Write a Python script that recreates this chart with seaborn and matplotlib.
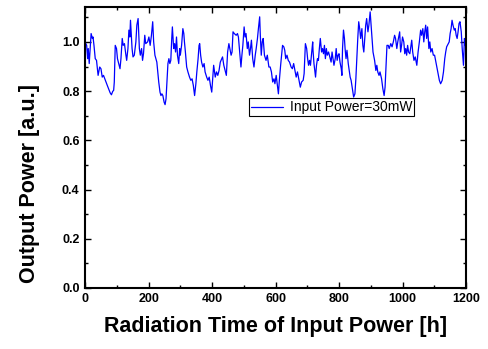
import numpy as np
import pandas as pd
import matplotlib
matplotlib.use("Agg")
import matplotlib.pyplot as plt
import seaborn as sns
from matplotlib.ticker import MultipleLocator

# values
hours = [0, 5, 8, 10, 13, 19, 23, 25, 28, 32, 36, 41, 46, 50, 54, 58, 62, 66, 70, 74,
         79, 83, 87, 90, 92, 95, 99, 102, 106, 110, 113, 117, 120, 124, 128, 131, 135,
         138, 141, 143, 146, 148, 151, 155, 160, 163, 167, 171, 174, 178, 181, 184, 188,
         191, 197, 201, 205, 209, 213, 216, 220, 226, 232, 236, 239,
         242, 245, 249, 252, 255, 258, 261, 264, 267, 270, 273, 275, 279, 282, 285, 288,
         291, 295, 298, 300, 304, 308, 311, 313, 316, 320, 324, 329, 333, 337, 341, 345,
         349, 352, 356, 359, 361, 364, 367, 371, 375, 378, 383, 387, 391, 395, 399, 402,
         405, 410, 414, 418, 422, 426, 433, 437, 441, 445, 449, 453, 456, 460, 463, 466,
         470, 476,
         480, 483, 486, 491, 494, 497, 501, 504, 507, 511, 514, 518, 521, 524, 528, 532,
         536, 539, 543, 546, 550, 552, 555, 558, 561, 565, 570, 574, 579, 583, 587, 591,
         595, 598, 602, 606, 609, 612, 616, 622, 626, 629, 632, 636, 640, 644, 649, 653,
         657, 661, 665, 669, 674, 678, 682, 687, 690, 694, 698, 701, 704, 707, 710, 713,
         717,
         718, 721, 726, 729, 732, 735, 738, 741, 745, 748, 751, 754, 757, 760, 763, 767,
         771, 775, 778, 781, 784, 788, 791, 794, 797, 800, 803, 807, 809, 811, 814, 817,
         819, 822, 825, 829, 832, 835, 838, 842, 846, 850, 853, 856, 859, 862, 865, 868,
         872, 875, 878, 881, 884, 887, 891, 894, 898, 901, 904, 907, 912, 916, 919, 922,
         926, 929, 934, 938, 942, 945, 948, 951,
         955, 958, 963, 967, 971, 975, 978, 982, 985, 988, 991, 994, 997, 1000, 1004,
         1007, 1010, 1013, 1016, 1019, 1023, 1026, 1029, 1032, 1036, 1040, 1045, 1049,
         1053, 1057, 1060, 1064, 1067, 1070, 1073, 1076, 1079, 1083, 1086, 1089, 1093,
         1097, 1101, 1106, 1110, 1113, 1116, 1120, 1125, 1129, 1133, 1136, 1139, 1144,
         1147, 1150, 1153, 1156, 1159, 1163, 1166, 1169, 1172, 1175, 1178, 1181, 1185,
         1188, 1192, 1195, 1198]

power = [1.000, 0.986, 0.932, 0.973, 0.912, 1.034, 1.014, 1.020, 0.986, 0.932, 0.925,
         0.864, 0.898, 0.891, 0.857, 0.864, 0.850, 0.837, 0.823, 0.810, 0.793, 0.785,
         0.799, 0.803, 0.837, 0.986, 0.973, 0.932, 0.912, 0.891, 0.932, 1.014, 0.986,
         0.993, 0.952, 0.925, 0.973, 1.048, 1.020, 1.088, 1.014, 0.973, 0.939, 0.946,
         1.000, 1.068, 1.095, 0.973, 0.946, 0.973, 0.925, 0.952, 1.027, 0.993, 1.000,
         1.020, 0.986, 1.027, 1.082, 1.000, 0.946, 0.918, 0.837, 0.796, 0.782,
         0.789, 0.782, 0.755, 0.745, 0.769, 0.844, 0.912, 0.932, 0.912, 0.925, 1.014,
         1.061, 0.973, 0.993, 0.959, 1.020, 0.946, 0.912, 0.973, 0.946, 0.986, 1.054,
         1.034, 1.000, 0.959, 0.898, 0.878, 0.857, 0.844, 0.850, 0.823, 0.782, 0.830,
         0.878, 0.932, 0.986, 0.993, 0.946, 0.918, 0.898, 0.912, 0.878, 0.857, 0.844,
         0.857, 0.823, 0.796, 0.850, 0.905, 0.857, 0.878, 0.864, 0.884, 0.918, 0.939,
         0.905, 0.884, 0.864, 0.959, 0.993, 0.973, 0.946, 0.959, 1.041, 1.034, 1.027,
         1.034, 1.020, 0.973, 0.898, 0.946, 0.986, 1.061, 1.020, 1.034, 0.973, 1.000,
         0.946, 0.973, 1.007, 0.932, 0.898, 0.946, 0.973, 1.014, 1.054, 1.102, 1.027,
         0.946, 1.000, 1.014, 0.946, 0.925, 0.946, 0.898, 0.898, 0.878, 0.837, 0.850,
         0.830, 0.864, 0.823, 0.789, 0.844, 0.905, 0.986, 0.980, 0.966, 0.932, 0.946,
         0.925, 0.918, 0.898, 0.891, 0.912, 0.884, 0.857, 0.878, 0.844, 0.816, 0.837,
         0.844, 0.871, 0.993, 0.973, 0.932, 0.905, 0.925, 0.905, 0.946, 1.000,
         0.966, 0.912, 0.857, 0.905, 0.932, 0.925, 0.973, 1.014, 0.959, 0.973, 0.952,
         0.986, 0.932, 0.973, 0.946, 0.959, 0.939, 0.918, 0.959, 0.932, 0.905, 0.932,
         0.973, 0.925, 0.946, 0.952, 0.918, 0.891, 0.864, 0.973, 1.048, 1.014, 0.973,
         0.932, 0.966, 0.912, 0.884, 0.857, 0.844, 0.810, 0.776, 0.789, 0.850, 0.932,
         1.014, 1.082, 1.054, 1.014, 1.054, 0.986, 0.959, 1.014, 1.068, 1.095, 1.041,
         1.068, 1.122, 1.068, 1.014, 0.959, 0.925, 0.884, 0.905, 0.878, 0.864, 0.878,
         0.850, 0.810, 0.782, 0.816, 0.905, 0.986,
         0.986, 0.973, 0.993, 0.980, 1.000, 1.027, 1.014, 0.973, 1.000, 1.020, 1.041,
         0.959, 0.986, 1.020, 1.000, 0.952, 0.973, 0.946, 0.986, 0.959, 0.952, 0.980,
         1.007, 0.959, 0.925, 0.939, 0.905, 0.959, 1.000, 1.048, 1.027, 1.054, 1.000,
         1.041, 1.068, 1.014, 1.061, 0.973, 1.000, 0.959, 0.973, 0.946, 0.946, 0.912,
         0.884, 0.864, 0.844, 0.830, 0.844, 0.878, 0.932, 0.959, 0.980, 0.993, 1.000,
         1.034, 1.054, 1.088, 1.068, 1.048, 1.054, 1.027, 1.014, 1.041, 1.075, 1.082,
         1.041, 0.973, 0.905, 1.014, 0.986]

df = pd.DataFrame({"Time": hours, "Power": power})

sns.set_theme(style="ticks")
plt.rcParams['font.family'] = ['Liberation Sans', 'DejaVu Sans']
plt.rcParams['text.color'] = 'black'
plt.rcParams['axes.labelcolor'] = 'black'
plt.rcParams['xtick.color'] = 'black'
plt.rcParams['ytick.color'] = 'black'

fig = plt.figure(figsize=(4.89, 3.49), dpi=100)
ax = fig.add_axes([0.174, 0.175, 0.779, 0.805])

sns.lineplot(data=df, x="Time", y="Power", ax=ax, color="#0000ff",
             linewidth=0.9, label="Input Power=30mW")

ax.set_xlim(0, 1200)
ax.set_ylim(0, 1.142)
ax.xaxis.set_major_locator(MultipleLocator(200))
ax.xaxis.set_minor_locator(MultipleLocator(100))
ax.yaxis.set_minor_locator(MultipleLocator(0.1))
ax.set_yticks([0.0, 0.2, 0.4, 0.6, 0.8, 1.0])
ax.set_yticklabels(["0.0", "0.2", "0.4", "0.6", "0.8", "1.0"])

for s in ax.spines.values():
    s.set_linewidth(1.5)
    s.set_color("black")
ax.tick_params(which="both", direction="in", top=True, right=True,
               width=1.0, color="black")
ax.tick_params(which="major", length=4, labelsize=9, pad=4)
ax.tick_params(which="minor", length=2.5)
for lab in ax.get_xticklabels() + ax.get_yticklabels():
    lab.set_fontweight("bold")

ax.set_xlabel("Radiation Time of Input Power [h]", fontsize=15.5, fontweight="bold")
ax.set_ylabel("Output Power [a.u.]", fontsize=15.5, fontweight="bold")
ax.xaxis.set_label_coords(0.5, -0.10)
ax.yaxis.set_label_coords(-0.118, 0.37)

leg = ax.legend(loc="upper left", bbox_to_anchor=(0.43, 0.675), fontsize=10,
                frameon=True, fancybox=False, framealpha=1, edgecolor="black",
                handlelength=2.3, borderpad=0.15, handletextpad=0.5, borderaxespad=0)
leg.get_frame().set_linewidth(0.8)

fig.savefig("out.png", dpi=100)
